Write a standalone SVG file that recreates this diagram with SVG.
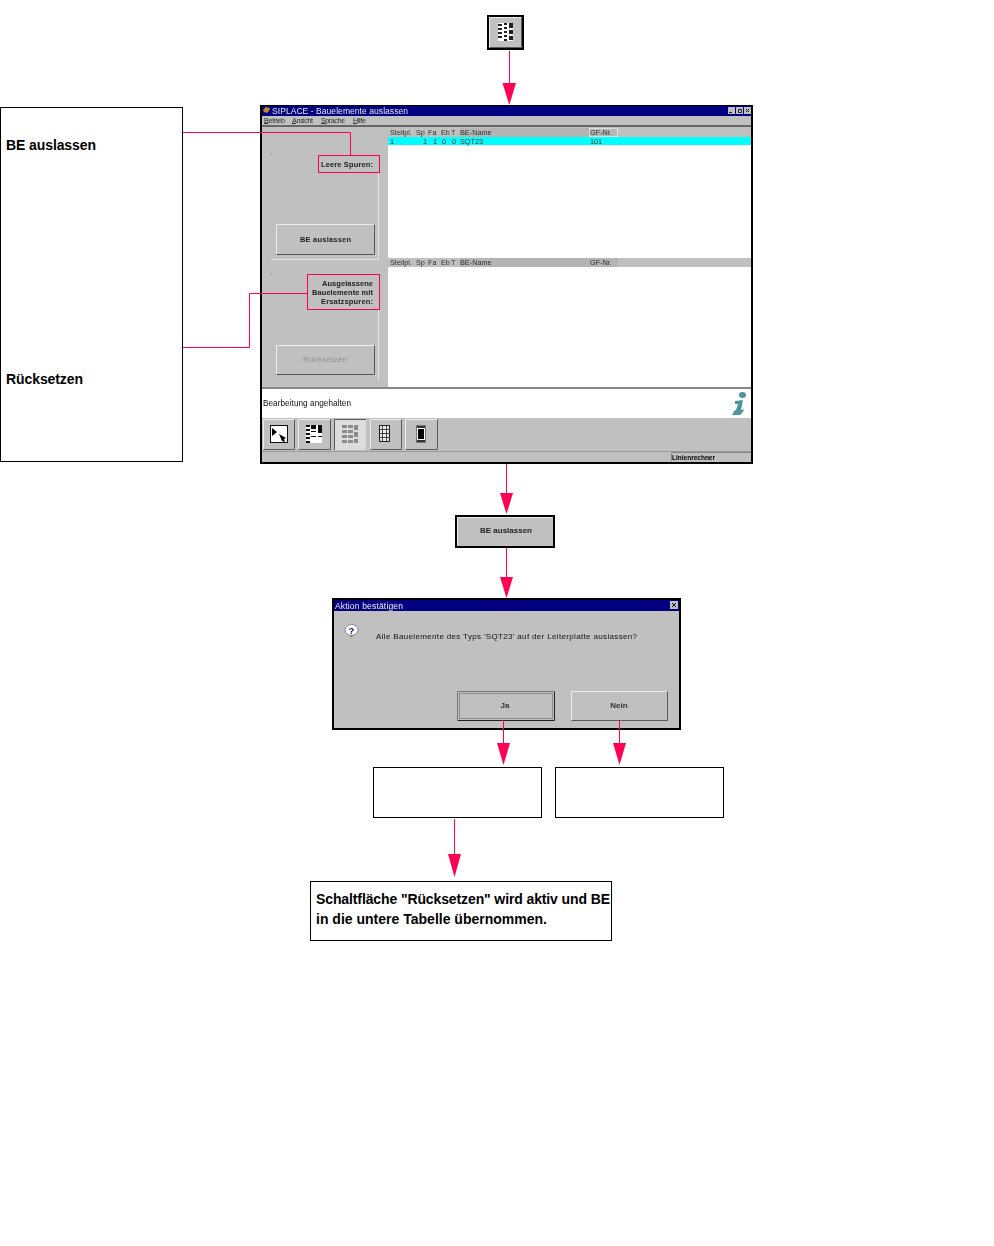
<svg xmlns="http://www.w3.org/2000/svg" width="994" height="1246" viewBox="0 0 994 1246">
<style>
text{font-family:"Liberation Sans",Arial,sans-serif;fill:#000}
.n{fill:#fff;stroke:#000;stroke-width:1}
.c{fill:none;stroke:#ff0055;stroke-width:1}
.h{fill:#ff0055;stroke:none}
.b{font-size:14px;font-weight:bold}
.s{font-size:7.3px;fill:#333}
.m{font-size:7.5px;font-weight:bold;fill:#222}
.f{fill:#c0c0c0}
.w{fill:#fff}
.hd{fill:#b4b4b4}
.hl{fill:none;stroke:#ececec}
.sh{fill:none;stroke:#5a5a5a}
.sm{filter:url(#soft)}
</style>
<defs>
<filter id="soft" x="-5%" y="-5%" width="110%" height="110%"><feGaussianBlur stdDeviation="0.3"/></filter>
<g id="pat">
<rect width="15" height="18" fill="#fff"/>
<path d="M0 1h4v2H0zM0 5h4v2H0zM0 9h4v2H0zM0 13h4v2H0zM11 0h4v5h-4zM11 7h4v4h-4zM11 13h4v4h-4zM6 0h3v2H6zM6 4h3v2H6zM6 8h3v2H6zM6 12h3v2H6zM6 16h3v2H6z" fill="#222"/>
</g>
</defs>
<rect width="994" height="1246" fill="#fff"/>
<g id="icon-top">
<rect x="488" y="16" width="35" height="33" fill="#c0c0c0" stroke="#000" stroke-width="2"/>
<path class="hl" d="M489.500 47V17.500H521"/><path class="sh" d="M489.500 47.500H521.500V17.500"/>
<use href="#pat" x="498" y="23" class="sm"/>
</g>
<g id="left-panel">
<rect class="n" x="0.500" y="107.500" width="182" height="354"/>
<text class="b" x="6" y="150" textLength="90">BE auslassen</text>
<text class="b" x="6" y="384" textLength="77">Rücksetzen</text>
</g>
<g id="main-window">
<rect x="261" y="106" width="491" height="357" fill="#c0c0c0" stroke="#000" stroke-width="2"/>
<rect x="262" y="106" width="489" height="10" fill="#000080"/>
<g class="sm">
<text x="272" y="114" font-size="8.500px" style="fill:#e8e8e8" textLength="136">SIPLACE - Bauelemente auslassen</text>
<path d="M263 110l3 -3 4 1 -1 3 -2 2 -3 -1z" fill="#c68a1a"/>
<text class="s" x="264" y="122.500" textLength="21">Betrieb</text><text class="s" x="292" y="122.500" textLength="21">Ansicht</text><text class="s" x="321" y="122.500" textLength="24">Sprache</text><text class="s" x="353" y="122.500" textLength="13">Hilfe</text>
<path d="M264 123.500h4M292 123.500h4M321 123.500h4M353 123.500h4" stroke="#333"/>
</g>
<rect x="728" y="107" width="7" height="7" fill="#c0c0c0"/><rect x="736" y="107" width="7" height="7" fill="#c0c0c0"/><rect x="744" y="107" width="7" height="7" fill="#c0c0c0"/>
<path d="M729 112.500h3M738.500 109.500h3v3h-3zM746 109l3 3M749 109l-3 3" stroke="#222" fill="none"/>
<rect x="262" y="125" width="489" height="2" fill="#666"/>
<rect x="388" y="127" width="363" height="260" class="w"/>
<rect x="388" y="127" width="363" height="10" class="f"/>
<rect x="460" y="128" width="129" height="9" class="hd"/>
<rect x="589.500" y="128.500" width="28" height="8" fill="#b8b8b8" stroke="#ddd"/>
<rect x="388" y="137" width="363" height="8" fill="#00ffff"/>
<g class="sm">
<text class="s" x="390" y="135">Stellpl.</text><text class="s" x="416" y="135">Sp</text><text class="s" x="428" y="135">Fa</text><text class="s" x="441" y="135">Eb</text><text class="s" x="451" y="135">T</text><text class="s" x="460" y="135">BE-Name</text><text class="s" x="590" y="135">GF-Nr.</text>
<text class="s" x="390" y="144">1</text><text class="s" x="423" y="144">1</text><text class="s" x="433" y="144">1</text><text class="s" x="442" y="144">0</text><text class="s" x="452" y="144">0</text><text class="s" x="460" y="144">SQT23</text><text class="s" x="590" y="144">101</text>
</g>
<rect x="388" y="258" width="363" height="9" class="f"/>
<rect x="460" y="258" width="129" height="9" class="hd"/>
<rect x="589" y="258" width="29" height="9" class="hd"/>
<g class="sm">
<text class="s" x="390" y="265">Stellpl.</text><text class="s" x="416" y="265">Sp</text><text class="s" x="428" y="265">Fa</text><text class="s" x="441" y="265">Eb</text><text class="s" x="451" y="265">T</text><text class="s" x="460" y="265">BE-Name</text><text class="s" x="590" y="265">GF-Nr.</text>
</g>
<path d="M378.500 173V259.500H271M378.500 310V380" stroke="#e6e6e6" fill="none"/>
<path d="M271 154h1M271 274h1" stroke="#777"/>
<path class="hl" d="M276.500 254V224.500H374"/><path class="sh" d="M276.500 254.500H374.500V224.500"/>
<path class="hl" d="M276.500 374V345.500H374"/><path class="sh" d="M276.500 374.500H374.500V345.500"/>
<g class="sm">
<text class="m" x="300" y="242" textLength="51">BE auslassen</text>
<text x="303" y="362" font-size="8px" style="fill:#909090" textLength="44">Rücksetzen</text>
<text class="m" x="321" y="167" textLength="52">Leere Spuren:</text>
<text class="m" x="322" y="286" textLength="51">Ausgelassene</text>
<text class="m" x="312" y="295" textLength="61">Bauelemente mit</text>
<text class="m" x="321" y="304" textLength="52">Ersatzspuren:</text>
</g>
<rect x="318.500" y="155.500" width="61" height="17" fill="none" stroke="#ff0055"/>
<rect x="307.500" y="274.500" width="72" height="35" fill="none" stroke="#ff0055"/>
<rect x="262" y="387" width="489" height="2" fill="#888"/>
<rect x="262" y="389" width="489" height="29" class="w"/>
<text class="sm" x="263" y="406" font-size="8.200px" textLength="88" style="fill:#111">Bearbeitung angehalten</text>
<path class="sm" d="M739 395a3.500 3 0 1 1 7 0a3.500 3 0 1 1 -7 0zM735 401l8 -1 -2 10 3 -1-1 3-3 3h-8l2 -4 2 -1 2 -6h-3z" fill="#4f94a0"/>
<path d="M262 451.500H751" stroke="#999"/>
<g id="toolbar">
<g id="tb1"><path class="hl" d="M263.500 450V419.500H295"/><path class="sh" d="M263.500 449.500H294.500V419.500"/>
<rect x="270.500" y="425.500" width="17" height="17" fill="#fff" stroke="#111"/><path d="M272 428l5 4-5 4zM279 434l7 4-2 1 1 3-3-1z" fill="#000" stroke="none"/></g>
<g id="tb2"><path class="hl" d="M298.500 450V419.500H330"/><path class="sh" d="M298.500 449.500H330.500V419.500"/>
<rect x="306" y="425" width="16" height="18" fill="#fff"/><path class="sm" d="M306 425h4v2h-4zM306 429h4v2h-4zM306 433h4v2h-4zM306 437h4v2h-4zM306 441h4v2h-4zM311 425h5v4h-5zM311 431h5v1h-5zM311 436h5v1h-5zM318 425h4v8h-4zM318 436h4v1h-4z" fill="#111"/></g>
<g id="tb3"><rect x="334" y="419" width="32" height="31" fill="#dcdcdc"/><path class="sh" d="M334.500 450V419.500H366"/>
<path class="sm" d="M342 425h5v3h-5zM342 430h5v3h-5zM342 435h5v3h-5zM342 440h5v3h-5zM348 425h5v3h-5zM348 430h5v3h-5zM348 435h5v3h-5zM348 440h5v3h-5zM354 425h4v5h-4zM354 432h4v5h-4zM354 439h4v4h-4z" fill="#8c8c8c"/></g>
<g id="tb4"><path class="hl" d="M370.500 450V419.500H402"/><path class="sh" d="M370.500 449.500H401.500V419.500"/>
<rect x="379.500" y="425.500" width="10" height="16" fill="#eee" stroke="#222"/><path d="M382.500 426v15M386.500 426v15M380 429.500h9M380 433.500h9M380 437.500h9" stroke="#444"/></g>
<g id="tb5"><path class="hl" d="M405.500 450V419.500H437"/><path class="sh" d="M405.500 449.500H437.500V419.500"/>
<rect x="416.500" y="425.500" width="9" height="17" fill="#fff" stroke="#777"/><rect x="418" y="429" width="6" height="10" fill="#000"/><rect x="417" y="426" width="8" height="2" fill="#333"/><rect x="417" y="440" width="8" height="2" fill="#333"/></g>
</g>
<path class="sh" d="M671.500 461V452.500H751" style="stroke:#888"/>
<text class="sm" x="672" y="459.500" font-size="6.500px" font-weight="bold" textLength="43">Linienrechner</text>
</g>
<g id="btn-be">
<rect x="456" y="516" width="98" height="31" fill="#c0c0c0" stroke="#000" stroke-width="2"/>
<path class="hl" d="M457.500 545V517.500H552"/>
<text class="m sm" x="480" y="533" style="font-size:8px" textLength="52">BE auslassen</text>
</g>
<g id="dialog">
<rect x="333" y="599" width="347" height="130" fill="#c0c0c0" stroke="#000" stroke-width="2"/>
<rect x="334" y="600" width="345" height="11" fill="#000080"/>
<text class="sm" x="335" y="608.500" font-size="8.500px" style="fill:#eee" textLength="68">Aktion bestätigen</text>
<rect x="670" y="601" width="8" height="8" fill="#c0c0c0"/><path d="M672 603l4 4M676 603l-4 4" stroke="#111"/>
<ellipse cx="351.500" cy="630" rx="6.500" ry="5.500" fill="#fff" stroke="#888"/><path d="M350 635l4 0-3 3z" fill="#888"/>
<text class="sm" x="351.500" y="634" font-size="9px" font-weight="bold" text-anchor="middle" style="fill:#00008b">?</text>
<text class="sm" x="376" y="639" font-size="8px" style="fill:#111" textLength="261">Alle Bauelemente des Typs 'SQT23' auf der Leiterplatte auslassen?</text>
<path d="M457.500 720V691.500H554" stroke="#777" fill="none"/><path class="sh" d="M457.500 720.500H554.500V691.500" style="stroke:#222"/>
<rect x="459.500" y="693.500" width="93" height="25" fill="none" stroke="#8a8a8a"/>
<text class="sm" x="505" y="708" font-size="8px" font-weight="bold" text-anchor="middle" style="fill:#333">Ja</text>
<path class="hl" d="M571.500 720V691.500H667"/><path class="sh" d="M571.500 720.500H667.500V691.500"/>
<text class="sm" x="619" y="708" font-size="8px" font-weight="bold" text-anchor="middle" style="fill:#333">Nein</text>
</g>
<g id="box-ja"><rect class="n" x="373.500" y="767.500" width="168" height="50"/></g>
<g id="box-nein"><rect class="n" x="555.500" y="767.500" width="168" height="50"/></g>
<g id="box-result">
<rect class="n" x="310.500" y="881.500" width="301" height="59"/>
<text class="b" x="316" y="904" textLength="294">Schaltfläche "Rücksetzen" wird aktiv und  BE</text>
<text class="b" x="316" y="924" textLength="231">in die untere Tabelle übernommen.</text>
</g>
<g id="connectors">
<path class="c" d="M509.500 51V84"/><path class="h" d="M502.500 83H516L509.300 105z"/>
<path class="c" d="M506.500 464V494"/><path class="h" d="M500 493H513L506.500 514z"/>
<path class="c" d="M506.500 548V578"/><path class="h" d="M500 577H513L506.500 598z"/>
<path class="c" d="M503.500 720V744"/><path class="h" d="M497 743H510L503.500 765z"/>
<path class="c" d="M619.500 720V744"/><path class="h" d="M613 743H626L619.500 765z"/>
<path class="c" d="M454.500 819V855"/><path class="h" d="M448 854H461L454.500 877z"/>
<path class="c" d="M183 132.500H350.500V155"/>
<path class="c" d="M183 347.500H249.500V293.500H307"/>
</g>
</svg>
